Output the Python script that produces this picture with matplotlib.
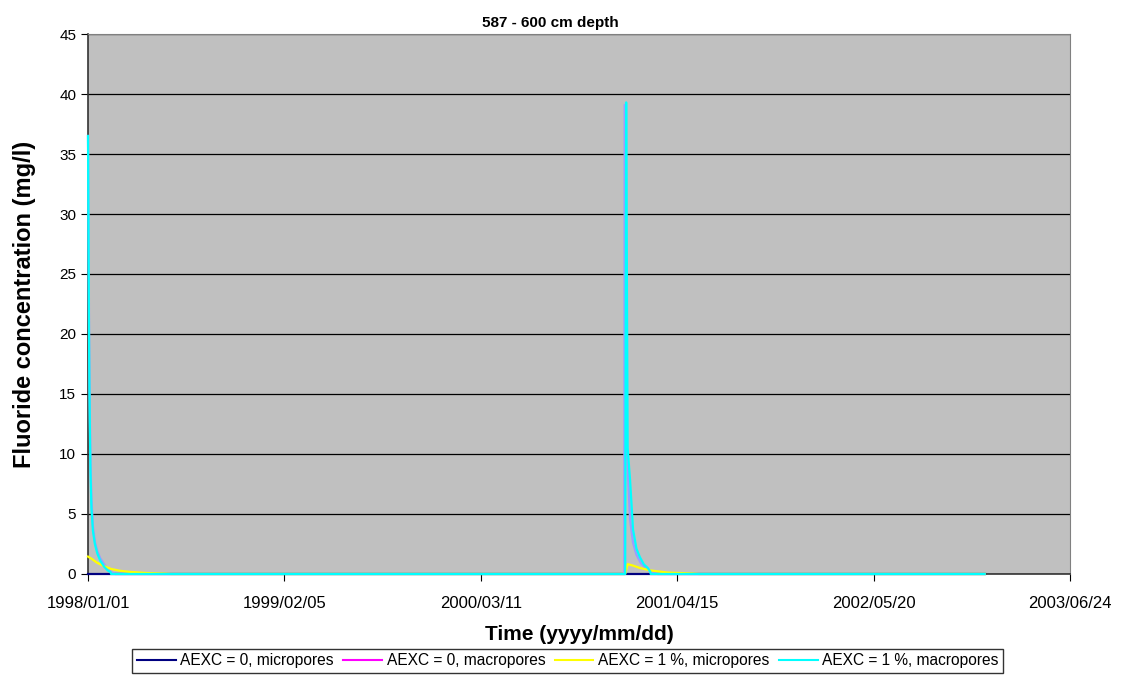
import numpy as np
import matplotlib
matplotlib.use('Agg')
import matplotlib.pyplot as plt
import matplotlib.dates as mdates
from matplotlib.lines import Line2D

plt.rcParams['font.family'] = ['Liberation Sans', 'DejaVu Sans']

# data (days since 1998/01/01, concentration in mg/l)
start = np.datetime64('1998-01-01')

micro0_days = [0, 1826]
micro0_vals = [0.0, 0.0]

macro0_days = [0, 1, 2, 3, 4, 5, 7, 10, 14, 19, 25, 33, 41, 48, 55,
               1092, 1093, 1097, 1100, 1104, 1110, 1117, 1126, 1138, 1150, 1160, 1826]
macro0_vals = [36.5, 29.0, 21.5, 16.0, 12.5, 9.5, 6.2, 4.0, 2.7, 1.9, 1.3, 0.8, 0.4, 0.15, 0.0,
               0.0, 39.1, 11.0, 8.0, 4.5, 2.6, 1.6, 0.9, 0.4, 0.15, 0.0, 0.0]

micro1_days = [0, 8, 18, 30, 47, 65, 86, 120, 157, 170,
               1094, 1099, 1110, 1124, 1145, 1180, 1230, 1245, 1826]
micro1_vals = [1.45, 1.25, 0.95, 0.7, 0.42, 0.27, 0.17, 0.08, 0.03, 0.0,
               0.0, 0.82, 0.7, 0.5, 0.3, 0.12, 0.04, 0.0, 0.0]

macro1_days = [0, 1, 2, 3, 4, 5, 7, 10, 14, 19, 25, 33, 40, 46, 47,
               1094, 1096, 1099, 1104, 1110, 1117, 1124, 1132, 1140, 1145, 1146, 1826]
macro1_vals = [36.5, 28.0, 20.0, 15.0, 11.5, 8.5, 5.5, 3.6, 2.5, 1.7, 1.1, 0.6, 0.3, 0.15, 0.0,
               0.0, 39.3, 10.5, 7.8, 3.7, 2.1, 1.4, 0.8, 0.5, 0.2, 0.0, 0.0]

labels = ['AEXC = 0, micropores', 'AEXC = 0, macropores',
          'AEXC = 1 %, micropores', 'AEXC = 1 %, macropores']
colors = ['#000080', '#FF00FF', '#FFFF00', '#00FFFF']
# the magenta trace sits under the cyan one and shows up lavender in the original
draw_colors = ['#000080', '#9C9CFF', '#FFFF00', '#00FFFF']

tick_dates = [start + np.timedelta64(400 * i, 'D') for i in range(6)]


def to_dates(days):
    return start + np.array(days).astype('timedelta64[D]')


fig = plt.figure(figsize=(11.24, 6.87), dpi=100)
ax = fig.add_axes([0.0783, 0.1645, 0.952 - 0.0783, 0.9505 - 0.1645])
ax.set_facecolor('#C0C0C0')

series = [(micro0_days, micro0_vals), (macro0_days, macro0_vals),
          (micro1_days, micro1_vals), (macro1_days, macro1_vals)]
for (d, v), col in zip(series, draw_colors):
    ax.plot(to_dates(d), v, color=col, lw=1.6, zorder=3, clip_on=False)

ax.set_ylim(0, 45)
ax.set_yticks(np.arange(0, 46, 5))
ax.yaxis.grid(True, color='black', lw=0.9)
ax.set_axisbelow(True)

ax.set_xlim(tick_dates[0], tick_dates[-1])
ax.set_xticks(tick_dates)
ax.xaxis.set_major_formatter(mdates.DateFormatter('%Y/%m/%d'))

for s in ['top', 'right']:
    ax.spines[s].set_color('#808080')
for s in ['left', 'bottom']:
    ax.spines[s].set_color('#333333')
    ax.spines[s].set_linewidth(1.2)
ax.tick_params(axis='both', direction='out', length=5, color='black', labelsize=11)
ax.tick_params(axis='x', labelsize=12, pad=11)

fig.text(0.49, 0.967, '587 - 600 cm depth', fontsize=11, fontweight='bold',
         ha='center', va='center')
ax.set_xlabel('Time (yyyy/mm/dd)', fontsize=15, fontweight='bold', labelpad=10)
ax.set_ylabel('Fluoride concentration (mg/l)', fontsize=17, fontweight='bold', labelpad=17)

handles = [Line2D([], [], color=c, lw=1.5) for c in colors]
leg = fig.legend(handles, labels, loc='center', bbox_to_anchor=(0.505, 0.038), ncol=4,
                 fontsize=11.2, frameon=True, fancybox=False, edgecolor='black',
                 handlelength=2.5, handletextpad=0.3, columnspacing=0.6, borderpad=0.3)
leg.get_frame().set_linewidth(1.0)

fig.savefig('out.png', dpi=100)
